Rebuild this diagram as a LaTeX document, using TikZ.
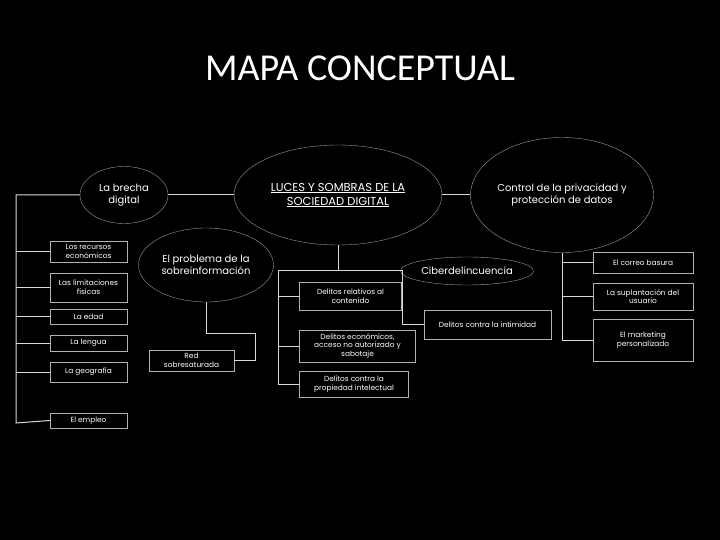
\documentclass[tikz,border=0pt]{standalone}
\usepackage{fontspec}
\setmainfont{Poppins}
\newfontfamily\titlefont{Carlito}
\usetikzlibrary{positioning, shapes.geometric}

\begin{document}
\begin{tikzpicture}[x=1pt, y=-1pt,
    bubble/.style={draw=gray!80, ellipse, fill=black, text=white, inner sep=0pt, align=center, font=\fontsize{10}{11.5}\selectfont},
    leaf/.style={draw=gray!60, fill=black, text=white, inner sep=0pt, align=center, font=\fontsize{7.4}{8.6}\selectfont},
    link/.style={draw=white!85!black, line width=1pt}]
    \fill[black] (0,0) rectangle (720,540);
    \useasboundingbox (0,0) rectangle (720,540);
    \node[text=white, font=\titlefont\fontsize{38}{40}\selectfont] (title) at (360,68) {MAPA CONCEPTUAL};

    % ellipses
    \node[bubble, minimum width=208, minimum height=100, font=\fontsize{11.5}{14}\selectfont] (main) at (338,195) {\underline{LUCES Y SOMBRAS DE LA}\\\underline{SOCIEDAD DIGITAL}};
    \node[bubble, minimum width=88, minimum height=57] (brecha) at (124,195) {La brecha\\digital};
    \node[bubble, minimum width=135, minimum height=74] (sobre) at (206,265) {El problema de la\\sobreinformación};
    \node[bubble, minimum width=160, minimum height=115] (control) at (562,195) {Control de la privacidad y\\protección de datos};
    \node[bubble, minimum width=133, minimum height=28] (ciber) at (467,271) {Ciberdelincuencia};

    % left boxes
    \node[leaf, minimum width=77, minimum height=21] (recursos) at (88.5,251.5) {Los recursos\\económicos};
    \node[leaf, minimum width=77, minimum height=29] (limit) at (88.5,287.5) {Las limitaciones\\físicas};
    \node[leaf, minimum width=77, minimum height=15] (edad) at (88.5,316.5) {La edad};
    \node[leaf, minimum width=77, minimum height=16] (lengua) at (88.5,343) {La lengua};
    \node[leaf, minimum width=77, minimum height=20] (geo) at (88.5,372) {La geografía};
    \node[leaf, minimum width=77, minimum height=15] (empleo) at (88.5,420.5) {El empleo};
    \node[leaf, minimum width=85, minimum height=21] (red) at (191.5,360.5) {Red\\sobresaturada};

    % middle boxes
    \node[leaf, minimum width=102, minimum height=28] (contenido) at (350.5,296) {Delitos relativos al\\contenido};
    \node[leaf, minimum width=116, minimum height=32] (economicos) at (357.5,346) {Delitos económicos,\\acceso no autorizado y\\sabotaje};
    \node[leaf, minimum width=109, minimum height=26] (propiedad) at (354,384) {Delitos contra la\\propiedad intelectual};
    \node[leaf, minimum width=127, minimum height=29] (intimidad) at (487.5,324.5) {Delitos contra la intimidad};

    % right boxes
    \node[leaf, minimum width=100, minimum height=21] (correo) at (643,262.5) {El correo basura};
    \node[leaf, minimum width=100, minimum height=27] (suplanta) at (643,296.5) {La suplantación del\\usuario};
    \node[leaf, minimum width=100, minimum height=42] (marketing) at (643,340) {El marketing\\personalizado};

    % connectors
    \draw[link] (brecha.east) -- (main.west);
    \draw[link] (main.east) -- (control.west);
    \draw[link] (brecha.west) -| (16,423) -- (empleo.west);
    \foreach \n in {recursos, limit, edad, lengua, geo}
        \draw[link] (\n.west) -- (16,0 |- \n.west);
    \draw[link] (sobre.south) |- (255,333) |- (red.east);
    \draw[link] (main.south) -- (338,270);
    \draw[link] (278,270) -- (402,270) |- (intimidad.west);
    \draw[link] (278,270) |- (propiedad.west);
    \draw[link] (contenido.west) -- (278,0 |- contenido.west);
    \draw[link] (economicos.west) -- (278,0 |- economicos.west);
    \draw[link] (control.south) |- (marketing.west);
    \draw[link] (correo.west) -- (563,0 |- correo.west);
    \draw[link] (suplanta.west) -- (563,0 |- suplanta.west);
\end{tikzpicture}
\end{document}
